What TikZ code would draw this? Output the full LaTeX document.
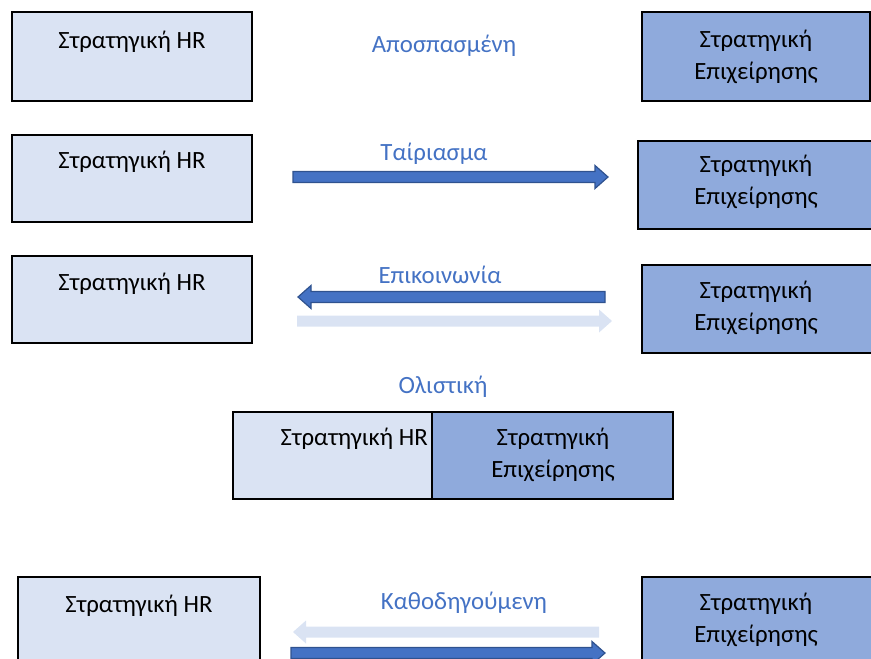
\documentclass[tikz,border=0pt]{standalone}
\usepackage{fontspec}
\setmainfont{Carlito}
\usetikzlibrary{calc}

\definecolor{hrfill}{HTML}{DAE3F3}
\definecolor{bizfill}{HTML}{8FAADC}
\definecolor{arrowfill}{HTML}{4472C4}
\definecolor{arrowedge}{HTML}{2F528F}
\definecolor{paleblue}{HTML}{DAE3F3}
\definecolor{labelblue}{HTML}{4472C4}

% two centred lines, baseline at the first line
\newcommand\twolines[2]{\vtop{\halign{\hfil##\hfil\cr#1\cr#2\cr}}}

% block arrow from coordinate #1 to coordinate #2, drawn with style #3
\newcommand\blockarrow[3]{%
  \coordinate (#1-h) at ($(#2)!13pt!(#1)$);
  \path[#3]
    ($(#1)!5.5pt!90:(#2)$) --
    ($(#1-h)!5.5pt!-90:(#1)$) --
    ($(#1-h)!11.5pt!-90:(#1)$) --
    (#2) --
    ($(#1-h)!11.5pt!90:(#1)$) --
    ($(#1-h)!5.5pt!90:(#1)$) --
    ($(#1)!5.5pt!-90:(#2)$) -- cycle;
}

\begin{document}
\begin{tikzpicture}[x=1pt,y=-1pt,
  every node/.style={font=\fontsize{24.8}{32.5}\selectfont},
  box/.style={draw=black, line width=1.3pt, inner sep=0pt},
  hrbox/.style={box, fill=hrfill},
  bizbox/.style={box, fill=bizfill},
  boxtext/.style={anchor=base, inner sep=0pt, text=black},
  relation/.style={anchor=base, inner sep=0pt, text=labelblue},
  darkarrow/.style={fill=arrowfill, draw=arrowedge, line width=1.2pt, line join=miter},
  palearrow/.style={fill=paleblue, draw=none}]

\useasboundingbox (0,0) rectangle (871,659);
\clip (0,0) rectangle (871,659);

% --- Αποσπασμένη ---
\node[hrbox, minimum width=240pt, minimum height=89pt] (hr1) at (132,56.5) {};
\node[bizbox, minimum width=228pt, minimum height=89pt] (biz1) at (756,56.5) {};
\node[boxtext] (hr1t) at (132,48) {Στρατηγική HR};
\node[boxtext] (biz1t) at (756,47) {\twolines{Στρατηγική}{Επιχείρησης}};
\node[relation] (rel1) at (444,52) {Αποσπασμένη};

% --- Ταίριασμα ---
\node[hrbox, minimum width=240pt, minimum height=87pt] (hr2) at (132,178.5) {};
\node[bizbox, minimum width=238pt, minimum height=88pt] (biz2) at (757,185) {};
\node[boxtext] (hr2t) at (132,168) {Στρατηγική HR};
\node[boxtext] (biz2t) at (756,172) {\twolines{Στρατηγική}{Επιχείρησης}};
\node[relation] (rel2) at (434,160) {Ταίριασμα};
\coordinate (a2s) at (293,177);
\coordinate (a2e) at (608,177);
\blockarrow{a2s}{a2e}{darkarrow}

% --- Επικοινωνία ---
\node[hrbox, minimum width=240pt, minimum height=87pt] (hr3) at (132,299.5) {};
\node[bizbox, minimum width=234pt, minimum height=88pt] (biz3) at (759,309) {};
\node[boxtext] (hr3t) at (132,290) {Στρατηγική HR};
\node[boxtext] (biz3t) at (756,298) {\twolines{Στρατηγική}{Επιχείρησης}};
\node[relation] (rel3) at (440,283) {Επικοινωνία};
\coordinate (a3s) at (605,297);
\coordinate (a3e) at (298,297);
\blockarrow{a3s}{a3e}{darkarrow}
\coordinate (b3s) at (297,321);
\coordinate (b3e) at (612,321);
\blockarrow{b3s}{b3e}{palearrow}

% --- Ολιστική ---
\node[relation] (rel4) at (443,393) {Ολιστική};
\node[hrbox, minimum width=199pt, minimum height=87pt] (hr4) at (332.5,455.5) {};
\node[bizbox, minimum width=241pt, minimum height=87pt] (biz4) at (552.5,455.5) {};
\node[boxtext, anchor=base east] (hr4t) at (428,445) {Στρατηγική HR};
\node[boxtext] (biz4t) at (553,445) {\twolines{Στρατηγική}{Επιχείρησης}};

% --- Καθοδηγούμενη ---
\node[hrbox, minimum width=242pt, minimum height=90pt] (hr5) at (139,622) {};
\node[bizbox, minimum width=234pt, minimum height=90pt] (biz5) at (759,622) {};
\node[boxtext] (hr5t) at (139,612) {Στρατηγική HR};
\node[boxtext] (biz5t) at (756,610) {\twolines{Στρατηγική}{Επιχείρησης}};
\node[relation] (rel5) at (464,609) {Καθοδηγούμενη};
\coordinate (a5s) at (599,632);
\coordinate (a5e) at (293,632);
\blockarrow{a5s}{a5e}{palearrow}
\coordinate (b5s) at (291,653);
\coordinate (b5e) at (605,653);
\blockarrow{b5s}{b5e}{darkarrow}

\end{tikzpicture}
\end{document}
